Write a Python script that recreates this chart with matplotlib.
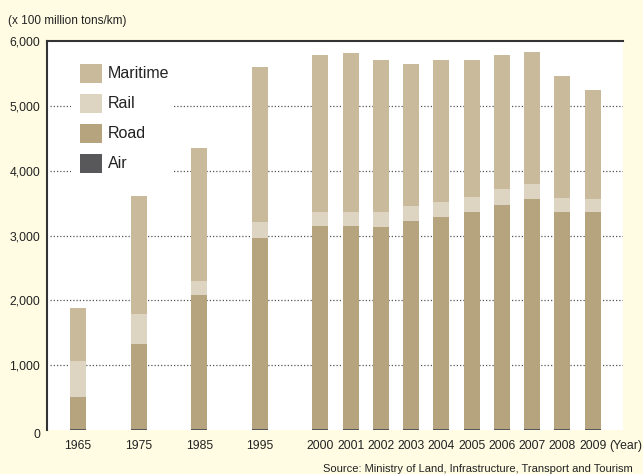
import matplotlib
matplotlib.use("Agg")
import matplotlib.pyplot as plt
import matplotlib.transforms as mtransforms
from matplotlib.patches import Rectangle
import numpy as np

plt.rcParams['font.family'] = ['Liberation Sans', 'DejaVu Sans']

years = ["1965", "1975", "1985", "1995", "2000", "2001", "2002", "2003",
         "2004", "2005", "2006", "2007", "2008", "2009"]
slots = [0, 2, 4, 6, 8, 9, 10, 11, 12, 13, 14, 15, 16, 17]
air = [18, 18, 18, 18, 20, 20, 20, 20, 20, 20, 20, 20, 20, 20]
road = [490, 1305, 2059, 2951, 3134, 3134, 3118, 3211, 3272, 3349, 3457, 3549, 3349, 3349]
rail = [554, 462, 215, 246, 215, 215, 231, 231, 231, 231, 246, 231, 216, 200]
maritime = [815, 1830, 2062, 2385, 2416, 2446, 2339, 2184, 2185, 2108, 2062, 2031, 1877, 1677]

series = [("Air", air, "#58585a"), ("Road", road, "#b5a47d"),
          ("Rail", rail, "#ddd4c1"), ("Maritime", maritime, "#c9ba9b")]

W, H = 643, 474
BG = "#fffce3"
fig = plt.figure(figsize=(W/100, H/100), dpi=100, facecolor=BG)
ax = fig.add_axes([47/W, 1-430/H, (623-47)/W, (430-41)/H])
ax.set_facecolor("white")

x = np.array(slots)
bottom = np.zeros(len(x))
for name, vals, col in series:
    ax.bar(x, vals, width=0.53, bottom=bottom, color=col, zorder=3, linewidth=0)
    bottom += np.array(vals)

ax.set_xlim(-1.03, 18)
ax.set_ylim(0, 6000)
yt = [0, 1000, 2000, 3000, 4000, 5000, 6000]
ax.set_yticks(yt)
ax.set_yticklabels(["0", "1,000", "2,000", "3,000", "4,000", "5,000", "6,000"])
ax.set_xticks(x)
ax.set_xticklabels(years)
ax.tick_params(axis='both', length=0, labelsize=8.8, colors="#222222")
ax.tick_params(axis='y', pad=5)
ax.tick_params(axis='x', pad=7.5)
lbl0 = ax.get_yticklabels()[0]
lbl0.set_transform(lbl0.get_transform() + mtransforms.ScaledTranslation(0, -4/100, fig.dpi_scale_trans))

for v in [1000, 2000, 3000, 4000, 5000]:
    ax.axhline(v, xmin=0.005, color="#555555", lw=0.9, linestyle=(0, (1, 1.6)), zorder=1)

for s in ["right", "bottom"]:
    ax.spines[s].set_visible(False)
for s in ["left", "top"]:
    ax.spines[s].set_color("#333333")
    ax.spines[s].set_linewidth(1.5)

# manual legend (pixel layout)
def fx(px):
    return px / W

def fy(py):
    return 1 - py / H

ax.add_patch(Rectangle((fx(71), fy(186)), fx(173) - fx(71), fy(50) - fy(186),
                       transform=fig.transFigure, facecolor="white", edgecolor="none", zorder=2))
for i, (name, vals, col) in enumerate(series[::-1]):
    top = 64 + 30 * i
    ax.add_patch(Rectangle((fx(80), fy(top + 19)), fx(102) - fx(80), fy(top) - fy(top + 19),
                           transform=fig.transFigure, facecolor=col, edgecolor="none", zorder=4))
    fig.text(fx(107.5), fy(top + 10), name, fontsize=11.5, color="#222222", va='center', ha='left')

fig.text(8/W, 1-21/H, "(x 100 million tons/km)", fontsize=8.5, color="#222222", va='center', ha='left')
fig.text(609/W, 1-445.5/H, "(Year)", fontsize=8.8, color="#222222", va='center', ha='left')
fig.text(633/W, 1-469.5/H, "Source: Ministry of Land, Infrastructure, Transport and Tourism",
         fontsize=8.0, color="#222222", va='center', ha='right')

fig.savefig("out.png", dpi=100, facecolor=BG)
